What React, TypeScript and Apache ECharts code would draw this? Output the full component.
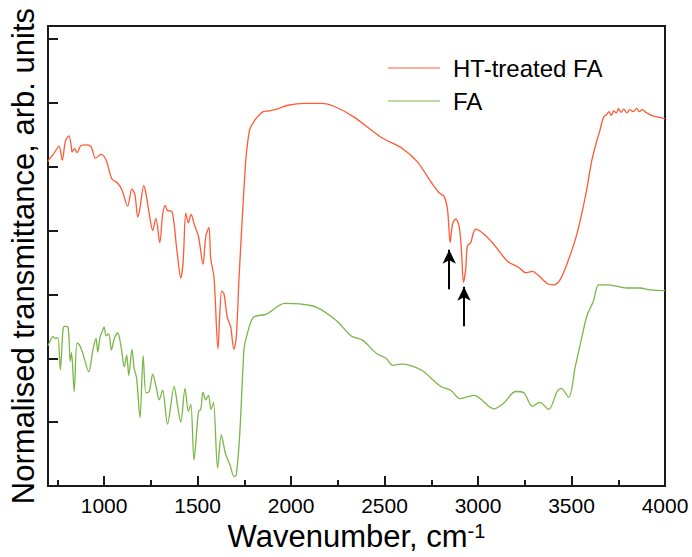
import React, { useEffect, useRef } from "react";
import * as echarts from "echarts";

const xMajorTicks = [1000, 1500, 2000, 2500, 3000, 3500, 4000];
const xMinorTicks = [750, 1250, 1750, 2250, 2750, 3250, 3750];

const htTreatedFA: [number, number][] = [
  [700, 5.08], [705, 5.11], [730, 5.2], [759, 5.32], [776, 5.1], [794, 5.41], [812, 5.48], [824, 5.33],
  [829, 5.23], [842, 5.28], [855, 5.22], [877, 5.33], [908, 5.34], [931, 5.31], [954, 5.13],
  [984, 5.19], [1011, 5.1], [1041, 4.81], [1073, 4.74], [1096, 4.63], [1126, 4.38], [1149, 4.65],
  [1165, 4.56], [1180, 4.21], [1192, 4.35], [1212, 4.7], [1224, 4.58], [1241, 4.27], [1260, 4.0],
  [1277, 4.19], [1298, 3.81], [1313, 4.25], [1327, 4.39], [1339, 4.31], [1362, 4.3], [1389, 3.7],
  [1410, 3.26], [1423, 3.52], [1437, 4.27], [1451, 4.12], [1465, 4.25], [1485, 4.07], [1505, 3.91],
  [1529, 3.47], [1544, 3.91], [1561, 4.05], [1570, 3.57], [1588, 3.26], [1609, 2.15], [1618, 2.64],
  [1629, 3.05], [1641, 3.01], [1659, 2.64], [1677, 2.49], [1694, 2.14], [1707, 2.33], [1721, 3.21],
  [1739, 4.19], [1757, 5.07], [1767, 5.36], [1780, 5.59], [1798, 5.69], [1824, 5.79], [1851, 5.86],
  [1878, 5.87], [1913, 5.89], [1984, 5.96], [2073, 5.99], [2162, 5.99], [2233, 5.94], [2339, 5.77],
  [2481, 5.46], [2597, 5.28], [2677, 5.07], [2748, 4.76], [2792, 4.59], [2819, 4.53], [2837, 4.32],
  [2851, 3.81], [2863, 4.09], [2881, 4.18], [2899, 4.07], [2911, 3.7], [2922, 3.19], [2934, 3.39],
  [2943, 3.76], [2961, 3.81], [2975, 3.96], [2988, 4.02], [3032, 3.94], [3085, 3.78], [3157, 3.52],
  [3218, 3.42], [3254, 3.34], [3290, 3.36], [3325, 3.29], [3370, 3.17], [3405, 3.15], [3441, 3.24],
  [3485, 3.55], [3530, 3.96], [3574, 4.53], [3609, 5.1], [3636, 5.41], [3654, 5.59], [3671, 5.77],
  [3689, 5.82], [3700, 5.86], [3712, 5.8], [3725, 5.87], [3740, 5.84], [3751, 5.91], [3765, 5.85],
  [3780, 5.9], [3796, 5.84], [3812, 5.89], [3830, 5.86], [3849, 5.91], [3862, 5.86], [3878, 5.89],
  [3902, 5.84], [3938, 5.79], [3988, 5.76], [4000, 5.75],
];

const fa: [number, number][] = [
  [700, 2.2], [705, 2.23], [727, 2.34], [740, 2.31], [753, 2.32], [766, 1.82], [780, 2.44], [788, 2.5],
  [807, 2.49], [819, 1.95], [826, 2.09], [840, 1.48], [855, 2.24], [868, 2.21], [886, 2.08],
  [918, 1.79], [940, 2.13], [957, 2.31], [966, 2.1], [979, 2.34], [989, 2.41], [1000, 2.49],
  [1011, 2.35], [1025, 2.38], [1039, 2.13], [1055, 2.31], [1073, 2.4], [1091, 2.18], [1108, 1.87],
  [1121, 2.05], [1132, 1.73], [1149, 2.14], [1161, 1.84], [1174, 1.69], [1192, 1.07], [1209, 2.04],
  [1224, 1.46], [1241, 1.48], [1260, 1.75], [1277, 1.57], [1295, 1.35], [1313, 1.5], [1339, 0.97],
  [1375, 1.56], [1393, 1.25], [1410, 1.0], [1433, 1.53], [1451, 1.17], [1464, 1.28], [1481, 0.41],
  [1505, 1.17], [1517, 1.2], [1529, 1.47], [1544, 1.35], [1558, 1.42], [1572, 1.2], [1585, 1.31],
  [1607, 0.28], [1627, 0.8], [1650, 0.5], [1671, 0.35], [1696, 0.15], [1707, 0.17], [1725, 0.79],
  [1748, 2.13], [1757, 2.28], [1798, 2.64], [1869, 2.69], [1966, 2.86], [2046, 2.85], [2135, 2.8],
  [2242, 2.59], [2322, 2.35], [2384, 2.28], [2455, 2.08], [2508, 2.0], [2544, 1.89], [2588, 1.91],
  [2694, 1.82], [2801, 1.56], [2854, 1.5], [2904, 1.37], [2979, 1.42], [3085, 1.21], [3138, 1.3],
  [3201, 1.48], [3245, 1.46], [3290, 1.25], [3330, 1.31], [3378, 1.2], [3423, 1.48], [3444, 1.53],
  [3485, 1.39], [3520, 1.87], [3556, 2.34], [3583, 2.67], [3618, 2.9], [3645, 3.15], [3698, 3.15],
  [3796, 3.1], [3867, 3.1], [3920, 3.07], [4000, 3.06],
];

// Arrow annotations: [wavenumber, tail value, tip value]
const arrows: [number, number, number][] = [
  [2846, 3.08, 3.7],
  [2925, 2.5, 3.12],
];

const FONT = "'Liberation Sans', Arial, sans-serif";

export default function App() {
  const ref = useRef<HTMLDivElement>(null);
  useEffect(() => {
    if (!ref.current) return;
    const chart = echarts.init(ref.current, undefined, { renderer: "svg" });
    const axisLineStyle = { color: "#1a1a1a", width: 2 };
    chart.setOption({
      animation: false,
      backgroundColor: "#ffffff",
      textStyle: { fontFamily: FONT, color: "#000" },
      grid: {
        left: 46, right: 27, top: 26, bottom: 66,
        show: true, borderColor: "#1a1a1a", borderWidth: 2, backgroundColor: "transparent",
      },
      legend: {
        orient: "vertical",
        left: 388,
        top: 56,
        padding: 0,
        itemWidth: 52,
        itemHeight: 24,
        itemGap: 9,
        icon: "path://M0,11.4 L52,11.4 L52,12.6 L0,12.6 Z",
        textStyle: { fontFamily: FONT, fontSize: 24, color: "#000", padding: [0, 0, 0, 8] },
        data: ["HT-treated FA", "FA"],
      },
      xAxis: [
        {
          type: "value",
          min: 700,
          max: 4000,
          name: "Wavenumber, cm{sup|-1}",
          nameLocation: "middle",
          nameGap: 32,
          nameTextStyle: {
            fontFamily: FONT, fontSize: 31, color: "#000",
            rich: { sup: { fontFamily: FONT, fontSize: 20, verticalAlign: "top", lineHeight: 20 } },
          },
          axisLine: { show: true, lineStyle: axisLineStyle },
          axisTick: { show: true, inside: true, length: 10, lineStyle: axisLineStyle, customValues: xMajorTicks },
          axisLabel: {
            show: true, fontFamily: FONT, fontSize: 21, color: "#000", margin: 9,
            customValues: xMajorTicks, formatter: (v: number) => String(v),
          },
          splitLine: { show: false },
        },
        {
          type: "value",
          min: 700,
          max: 4000,
          position: "bottom",
          axisLine: { show: false },
          axisTick: { show: true, inside: true, length: 6, lineStyle: axisLineStyle, customValues: xMinorTicks },
          axisLabel: { show: false },
          splitLine: { show: false },
        },
      ],
      yAxis: {
        type: "value",
        min: 0,
        max: 7.2,
        interval: 1,
        name: "Normalised transmittance, arb. units",
        nameLocation: "middle",
        nameGap: 9,
        nameTextStyle: { fontFamily: FONT, fontSize: 31, color: "#000" },
        axisLine: { show: true, lineStyle: axisLineStyle },
        axisTick: { show: true, inside: true, length: 10, lineStyle: axisLineStyle },
        axisLabel: { show: false },
        splitLine: { show: false },
      },
      series: [
        {
          name: "HT-treated FA",
          type: "line",
          data: htTreatedFA,
          showSymbol: false,
          symbol: "none",
          smooth: 0.3,
          lineStyle: { color: "#ff5a36", width: 1.3 },
          itemStyle: { color: "#ff5a36" },
          markLine: {
            silent: true,
            symbol: ["none", "arrow"],
            symbolSize: [10, 14],
            label: { show: false },
            lineStyle: { color: "#000", width: 2, type: "solid" },
            data: arrows.map(([x, y0, y1]) => [{ coord: [x, y0] }, { coord: [x, y1] }]),
          },
        },
        {
          name: "FA",
          type: "line",
          data: fa,
          showSymbol: false,
          symbol: "none",
          smooth: 0.3,
          lineStyle: { color: "#7ab648", width: 1.3 },
          itemStyle: { color: "#7ab648" },
        },
      ],
    });
    return () => chart.dispose();
  }, []);
  return (
    <div
      ref={ref}
      style={{ position: "fixed", left: 0, top: 0, width: 692, height: 557, background: "#fff" }}
    />
  );
}
